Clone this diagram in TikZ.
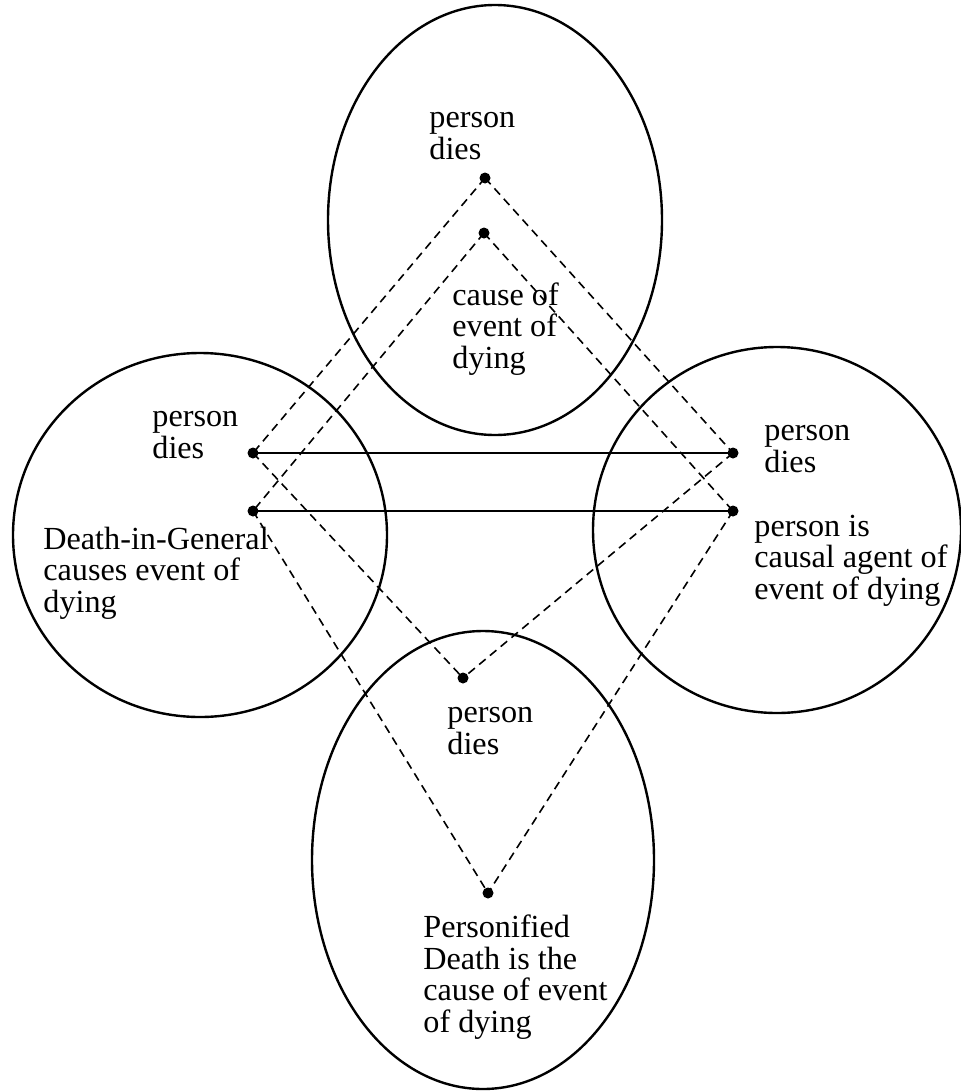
\documentclass[tikz,border=0pt]{standalone}
\usepackage{fontspec}
\setmainfont{Liberation Serif}
\usetikzlibrary{positioning}

\begin{document}
\begin{tikzpicture}[x=0.5pt, y=-0.5pt,
  every node/.style={font=\fontsize{16.1}{15.75}\selectfont, align=left, inner sep=0pt, anchor=base west},
  dot/.style={circle, fill, inner sep=0pt, minimum size=5.5pt, anchor=center},
  frame/.style={line width=1.2pt},
  link/.style={line width=0.8pt, dash pattern=on 4.2pt off 2.8pt},
  bar/.style={line width=1.1pt}]
\useasboundingbox (0,0) rectangle (961,1092);
% the four spaces
\draw[frame] (495,220) ellipse [x radius=83.5pt, y radius=107.5pt];
\draw[frame] (200,535) ellipse [x radius=93.5pt, y radius=91pt];
\draw[frame] (777,530) ellipse [x radius=92pt, y radius=91.5pt];
\draw[frame] (483,860) ellipse [x radius=85.5pt, y radius=114.5pt];
% elements
\node (topA) [dot] at (485,178) {};
\node (topB) [dot] at (484,233) {};
\node (leftA) [dot] at (253,453) {};
\node (leftB) [dot] at (253,511) {};
\node (rightA) [dot] at (733,453) {};
\node (rightB) [dot] at (733,511) {};
\node (botA) [dot] at (463,678) {};
\node (botB) [dot] at (488,893) {};
% labels (placed by the baseline of their last line)
\node (topdies) at (429,159) {person\\dies};
\node (topcause) at (452,368) {cause of\\event of\\dying};
\node (leftdies) at (152,458) {person\\dies};
\node (leftcause) at (43,612) {Death-in-General\\causes event of\\dying};
\node (rightdies) at (764,472) {person\\dies};
\node (rightcause) at (754,599) {person is\\causal agent of\\event of dying};
\node (botdies) at (447,754) {person\\dies};
\node (botcause) at (423,1032) {Personified\\Death is the\\cause of event\\of dying};
% counterpart connectors
\draw[bar] (leftA.center) -- (rightA.center);
\draw[bar] (leftB.center) -- (rightB.center);
\draw[link] (topA.center) -- (leftA.center);
\draw[link] (topA.center) -- (rightA.center);
\draw[link] (topB.center) -- (leftB.center);
\draw[link] (topB.center) -- (rightB.center);
\draw[link] (leftA.center) -- (botA.center);
\draw[link] (rightA.center) -- (botA.center);
\draw[link] (leftB.center) -- (botB.center);
\draw[link] (rightB.center) -- (botB.center);
\end{tikzpicture}
\end{document}
